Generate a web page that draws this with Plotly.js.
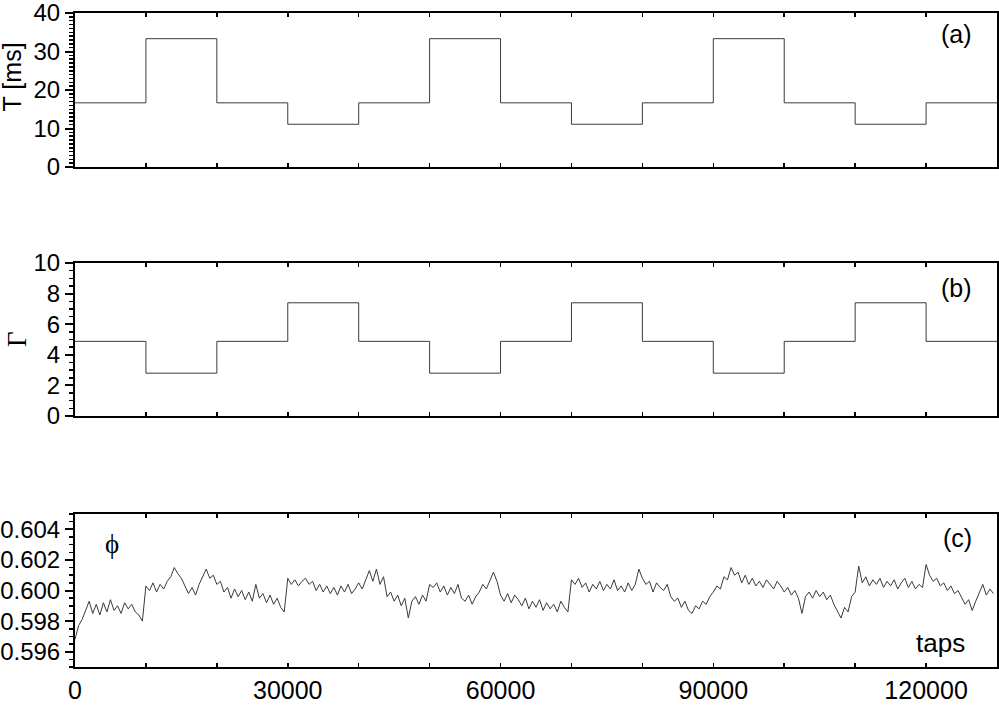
<!DOCTYPE html>
<html>
<head>
<meta charset="utf-8">
<script src="https://cdn.plot.ly/plotly-3.0.1.min.js"></script>
<style>html,body{margin:0;padding:0;background:#fff;}#chart{width:999px;height:705px;}</style>
</head>
<body>
<div id="chart"></div>
<script>
// Step boundaries (taps) for panels (a) and (b); last value repeated for the 'hv' step
const segTaps = [0, 10000, 20000, 30000, 40000, 50000, 60000, 70000, 80000, 90000, 100000, 110000, 120000, 130000];
// Panel (a): period T [ms]
const periodT = [16.67, 33.33, 16.67, 11.11, 16.67, 33.33, 16.67, 11.11, 16.67, 33.33, 16.67, 11.11, 16.67, 16.67];
// Panel (b): acceleration Gamma
const gammaVals = [4.88, 2.80, 4.88, 7.40, 4.88, 2.80, 4.88, 7.40, 4.88, 2.80, 4.88, 7.40, 4.88, 4.88];
// Panel (c): packing fraction phi, sampled every 500 taps starting at 0
const phiStartTap = 0;
const phiStepTap = 500;
const phiVals = [
  0.5968, 0.5977, 0.5981, 0.5987, 0.5993, 0.5985, 0.5991, 0.5984, 0.5992, 0.5986,
  0.5994, 0.5987, 0.5990, 0.5985, 0.5992, 0.5988, 0.5991, 0.5986, 0.5984, 0.5980,
  0.6003, 0.6000, 0.6005, 0.5999, 0.6004, 0.6001, 0.6006, 0.6009, 0.6015, 0.6011,
  0.6008, 0.6003, 0.5998, 0.6002, 0.5997, 0.6004, 0.6009, 0.6014, 0.6008, 0.6010,
  0.6004, 0.6006, 0.5999, 0.6002, 0.5995, 0.6001, 0.5996, 0.6000, 0.5994, 0.5999,
  0.5993, 0.6004, 0.5995, 0.5998, 0.5992, 0.5997, 0.5991, 0.5995, 0.5989, 0.5986,
  0.6008, 0.6004, 0.6007, 0.6003, 0.6006, 0.6008, 0.6004, 0.6006, 0.6000, 0.6004,
  0.5999, 0.6003, 0.5998, 0.6002, 0.5997, 0.6003, 0.5999, 0.6004, 0.5998, 0.6001,
  0.6005, 0.6001, 0.6007, 0.6013, 0.6006, 0.6014, 0.6004, 0.6009, 0.5996, 0.5999,
  0.5993, 0.5997, 0.5990, 0.5995, 0.5982, 0.5993, 0.5996, 0.5991, 0.5997, 0.5993,
  0.6004, 0.6002, 0.6005, 0.5999, 0.6003, 0.5997, 0.6002, 0.5998, 0.6004, 0.5995,
  0.5993, 0.5997, 0.5991, 0.5996, 0.5999, 0.6004, 0.6001, 0.6007, 0.6012, 0.6006,
  0.5997, 0.5993, 0.5998, 0.5992, 0.5997, 0.5994, 0.5990, 0.5995, 0.5988, 0.5993,
  0.5989, 0.5994, 0.5987, 0.5992, 0.5988, 0.5991, 0.5986, 0.5993, 0.5989, 0.5986,
  0.6007, 0.6004, 0.6008, 0.6002, 0.6005, 0.5999, 0.6004, 0.6001, 0.6006, 0.6000,
  0.6004, 0.6001, 0.6007, 0.6000, 0.6003, 0.5999, 0.6005, 0.6000, 0.6004, 0.6014,
  0.6008, 0.6004, 0.6006, 0.5999, 0.6005, 0.6002, 0.6000, 0.6004, 0.5996, 0.5993,
  0.5995, 0.5989, 0.5993, 0.5987, 0.5985, 0.5990, 0.5988, 0.5993, 0.5991, 0.5996,
  0.5999, 0.6003, 0.6001, 0.6009, 0.6007, 0.6015, 0.6010, 0.6012, 0.6005, 0.6010,
  0.6004, 0.6008, 0.6003, 0.6006, 0.6002, 0.6007, 0.6004, 0.6001, 0.6006, 0.6003,
  0.5999, 0.6002, 0.5997, 0.6000, 0.5995, 0.5985, 0.5996, 0.5999, 0.5995, 0.6000,
  0.5996, 0.5999, 0.5994, 0.5997, 0.5991, 0.5986, 0.5982, 0.5989, 0.5986, 0.5996,
  0.5999, 0.6016, 0.6005, 0.6009, 0.6003, 0.6007, 0.6004, 0.6008, 0.6002, 0.6006,
  0.6003, 0.6007, 0.6001, 0.6005, 0.6008, 0.6002, 0.6006, 0.6001, 0.6004, 0.6002,
  0.6017, 0.6010, 0.6006, 0.6008, 0.6003, 0.6005, 0.6000, 0.6003, 0.5998, 0.6000,
  0.5995, 0.5991, 0.5994, 0.5987, 0.5993, 0.5998, 0.6004, 0.5997, 0.6001, 0.5998
];
const xTickLabels = ['0', '30000', '60000', '90000', '120000'];
const xTickVals = [0, 30000, 60000, 90000, 120000];
const tTickVals = [0, 10, 20, 30, 40];
const gTickVals = [0, 2, 4, 6, 8, 10];
const pTickVals = [0.596, 0.598, 0.600, 0.602, 0.604];
const pTickText = ['0.596', '0.598', '0.600', '0.602', '0.604'];

const FONT = 'Liberation Sans, Arial, sans-serif';
const SERIF = 'Liberation Serif, Times New Roman, serif';
const TXT = 24;
const lineStyle = {color: '#3a3a3a', width: 1};

const traces = [
  {x: segTaps, y: periodT, type: 'scatter', mode: 'lines', line: Object.assign({shape: 'hv'}, lineStyle), xaxis: 'x', yaxis: 'y', hoverinfo: 'none'},
  {x: segTaps, y: gammaVals, type: 'scatter', mode: 'lines', line: Object.assign({shape: 'hv'}, lineStyle), xaxis: 'x2', yaxis: 'y2', hoverinfo: 'none'},
  {x0: phiStartTap, dx: phiStepTap, y: phiVals, type: 'scatter', mode: 'lines', line: lineStyle, xaxis: 'x3', yaxis: 'y3', hoverinfo: 'none'}
];

function xAxis(anchor, showLabels) {
  return {
    anchor: anchor, domain: [0, 1], range: [0, 130000],
    showline: true, linecolor: '#000', linewidth: 2, mirror: 'allticks',
    ticks: 'inside', ticklen: 4, tickwidth: 1.5, tickcolor: '#000',
    tickmode: 'array', tickvals: xTickVals, ticktext: xTickLabels,
    minor: {dtick: 10000, tick0: 0, ticks: 'inside', ticklen: 4, tickwidth: 1.5, tickcolor: '#000', showgrid: false},
    showgrid: false, zeroline: false, showticklabels: showLabels,
    tickfont: {family: FONT, size: 25, color: '#000'}, ticklabelstandoff: 0, ticklabeloverflow: 'allow'
  };
}
function yAxis(anchor, domain, range, vals, text, minorDtick) {
  const a = {
    anchor: anchor, domain: domain, range: range,
    showline: true, linecolor: '#000', linewidth: 2, mirror: 'allticks',
    ticks: 'outside', ticklen: 8, tickwidth: 2, tickcolor: '#000',
    tickmode: 'array', tickvals: vals,
    minor: {dtick: minorDtick, tick0: 0, ticks: 'outside', ticklen: 4, tickwidth: 1.5, tickcolor: '#000', showgrid: false},
    showgrid: false, zeroline: false,
    tickfont: {family: FONT, size: TXT, color: '#000'}, ticklabeloverflow: 'allow'
  };
  if (text) a.ticktext = text;
  return a;
}

const layout = {
  width: 999, height: 705,
  margin: {l: 75, r: 2, t: 13, b: 38},
  paper_bgcolor: '#fff', plot_bgcolor: '#fff',
  showlegend: false,
  font: {family: FONT, size: TXT, color: '#000'},
  xaxis: xAxis('y', false),
  xaxis2: xAxis('y2', false),
  xaxis3: xAxis('y3', true),
  yaxis: yAxis('x', [0.7645, 1], [0, 40], tTickVals, null, 1),
  yaxis2: yAxis('x2', [0.3838, 0.6177], [0, 10], gTickVals, null, 0.5),
  yaxis3: yAxis('x3', [0, 0.2339], [0.595, 0.605], pTickVals, pTickText, 0.0005),
  annotations: [
    {text: 'T [ms]', xref: 'paper', yref: 'paper', x: -0.068, y: 0.902, textangle: -90, showarrow: false, xanchor: 'center', yanchor: 'middle', font: {family: FONT, size: 25, color: '#000'}},
    {text: 'Γ', xref: 'paper', yref: 'paper', x: -0.063, y: 0.5015, textangle: -90, showarrow: false, xanchor: 'center', yanchor: 'middle', font: {family: SERIF, size: 27, color: '#000'}},
    {text: 'ϕ', xref: 'paper', yref: 'paper', x: 0.0401, y: 0.188, showarrow: false, xanchor: 'center', yanchor: 'middle', font: {family: SERIF, size: 27, color: '#000'}},
    {text: '(a)', xref: 'paper', yref: 'paper', x: 0.975, y: 0.968, showarrow: false, xanchor: 'right', yanchor: 'middle', font: {family: FONT, size: 25, color: '#000'}},
    {text: '(b)', xref: 'paper', yref: 'paper', x: 0.975, y: 0.58, showarrow: false, xanchor: 'right', yanchor: 'middle', font: {family: FONT, size: 25, color: '#000'}},
    {text: '(c)', xref: 'paper', yref: 'paper', x: 0.975, y: 0.198, showarrow: false, xanchor: 'right', yanchor: 'middle', font: {family: FONT, size: 25, color: '#000'}},
    {text: 'taps', xref: 'paper', yref: 'paper', x: 0.9675, y: 0.0367, showarrow: false, xanchor: 'right', yanchor: 'middle', font: {family: FONT, size: 26, color: '#000'}}
  ]
};

Plotly.newPlot('chart', traces, layout, {staticPlot: true, displayModeBar: false});
</script>
</body>
</html>
